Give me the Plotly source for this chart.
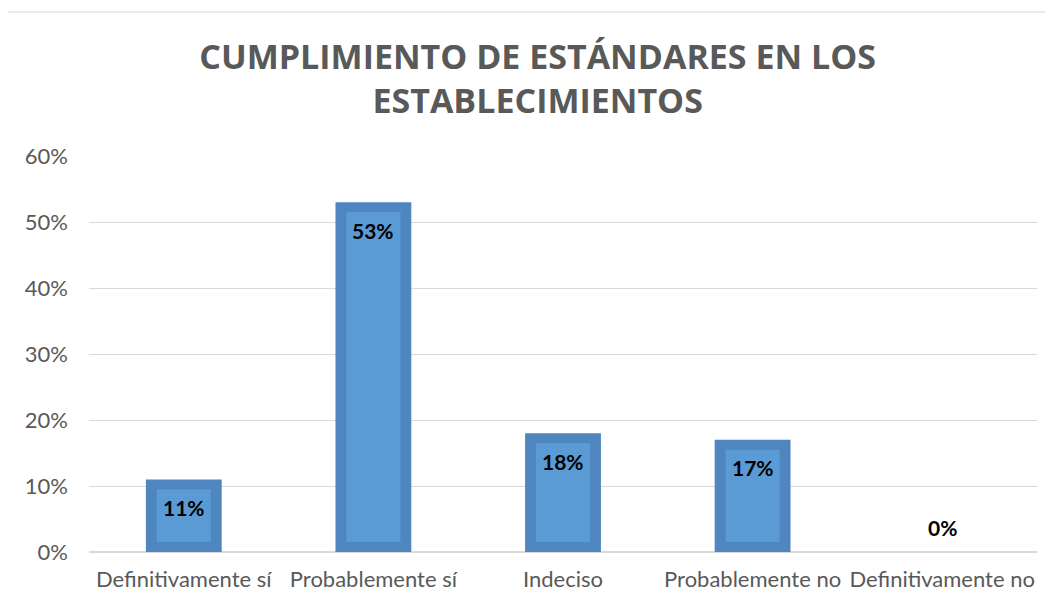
import plotly.graph_objects as go

categories = ["Definitivamente sí", "Probablemente sí", "Indeciso", "Probablemente no", "Definitivamente no"]
values = [0.11, 0.53, 0.18, 0.17, 0.0]
labels = ["11%", "53%", "18%", "17%", "0%"]

# inner (lighter) face of each bar is inset from the darker rim by ~10 px
y_span = 396  # plot height in px for the 0..60% range
inset = 0.6 * 10 / y_span
inner_base = [inset if v > 0 else 0 for v in values]
inner_len = [max(v - 2 * inset, 0) for v in values]

fig = go.Figure()
fig.add_trace(
    go.Bar(
        x=categories, y=values, width=0.4,
        marker=dict(color="#4f86c0", line=dict(width=0)),
        hoverinfo="skip",
    )
)
fig.add_trace(
    go.Bar(
        x=categories, y=inner_len, base=inner_base, width=0.285,
        marker=dict(color="#5b9bd5", line=dict(width=0)),
        hoverinfo="skip",
    )
)

annotations = [
    dict(
        x=c, y=v, xref="x", yref="y", text=f"<b>{t}</b>", showarrow=False,
        yanchor="middle", yshift=-28 if v > 0 else 25,
        font=dict(family="Lato", size=21, color="#000000"),
    )
    for c, v, t in zip(categories, values, labels)
]

fig.update_layout(
    width=1053,
    height=607,
    paper_bgcolor="white",
    plot_bgcolor="white",
    barmode="overlay",
    margin=dict(l=81, r=24, t=148, b=63),
    showlegend=False,
    title=dict(
        text="CUMPLIMIENTO DE ESTÁNDARES EN LOS<br>ESTABLECIMIENTOS",
        x=0.503,
        xanchor="center",
        y=0.90,
        yanchor="top",
        font=dict(family="Open Sans", size=34, color="#595959", weight="bold"),
    ),
    font=dict(family="Lato", size=22, color="#595959"),
    annotations=annotations,
    shapes=[
        dict(
            type="rect", xref="paper", yref="paper",
            x0=-0.0907, x1=1.1, y0=-0.3, y1=1.3636,
            line=dict(color="#d9d9d9", width=1), fillcolor="rgba(0,0,0,0)",
            layer="below",
        )
    ],
)

fig.update_yaxes(
    range=[0, 0.6],
    dtick=0.1,
    tickformat=".0%",
    showgrid=True,
    gridcolor="#d9d9d9",
    gridwidth=1,
    zeroline=True,
    zerolinecolor="#d9d9d9",
    showline=False,
    ticks="",
    tickfont=dict(family="Lato", size=22, color="#595959"),
    ticklabelstandoff=20,
)
fig.update_xaxes(
    showgrid=False,
    showline=False,
    ticks="",
    tickangle=0,
    tickfont=dict(family="Lato", size=22, color="#595959"),
    ticklabelstandoff=12,
)

fig.write_html("out.html")
